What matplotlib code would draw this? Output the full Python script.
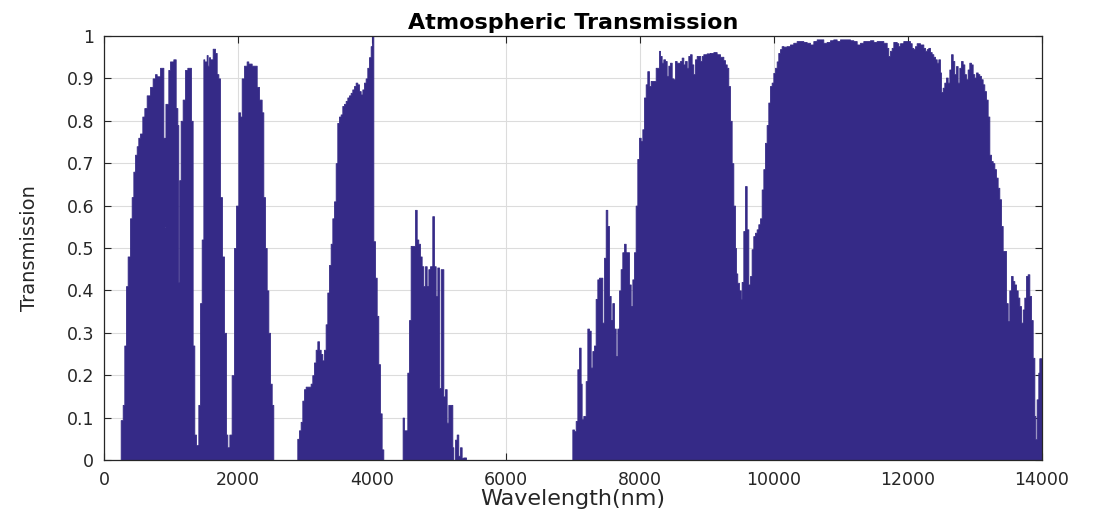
import matplotlib
matplotlib.use("Agg")
import matplotlib.pyplot as plt
import numpy as np

# ---- data (wavelength in nm = left edge of each step, transmission value) ----
band1_wl = [249, 279, 303, 328, 353, 388, 413, 438, 463, 488, 512, 537, 572, 602, 637, 687, 726, 761, 786, 836,
            886, 905, 917, 960, 985, 1035, 1070, 1095, 1109, 1124, 1144, 1174, 1209, 1244, 1298, 1323, 1348, 1373,
            1408, 1433, 1458, 1483, 1497, 1532, 1547, 1567, 1582, 1622, 1657, 1682, 1707, 1731, 1761, 1791, 1821,
            1841, 1871, 1905, 1940, 1970, 2005, 2030, 2055, 2090, 2129, 2154, 2204, 2279, 2314, 2353, 2378, 2403,
            2428, 2453, 2478, 2503, 2527]
band1_T = [0.094, 0.13, 0.27, 0.41, 0.48, 0.57, 0.62, 0.68, 0.72, 0.74, 0.76, 0.77, 0.81, 0.83, 0.86, 0.88, 0.90,
           0.91, 0.905, 0.925, 0.76, 0.55, 0.84, 0.92, 0.94, 0.945, 0.83, 0.79, 0.42, 0.66, 0.80, 0.85, 0.92, 0.925,
           0.80, 0.27, 0.06, 0.035, 0.13, 0.37, 0.52, 0.945, 0.94, 0.955, 0.93, 0.95, 0.945, 0.97, 0.96, 0.91, 0.90,
           0.62, 0.48, 0.30, 0.06, 0.03, 0.06, 0.20, 0.50, 0.60, 0.82, 0.81, 0.90, 0.93, 0.94, 0.935, 0.93, 0.88,
           0.85, 0.82, 0.62, 0.50, 0.40, 0.30, 0.18, 0.13, 0.0]

band2_wl = [2885, 2910, 2935, 2960, 2985, 3010, 3084, 3109, 3134, 3159, 3184, 3209, 3234, 3259, 3283, 3308, 3333,
            3358, 3383, 3408, 3433, 3458, 3482, 3507, 3532, 3557, 3582, 3607, 3632, 3657, 3681, 3706, 3731, 3756,
            3781, 3806, 3831, 3856, 3880, 3905, 3930, 3955, 3980, 4000, 4020, 4045, 4070, 4094, 4119, 4144, 4169]
band2_T = [0.05, 0.07, 0.09, 0.14, 0.167, 0.173, 0.18, 0.20, 0.23, 0.26, 0.28, 0.26, 0.25, 0.235, 0.26, 0.32, 0.395,
           0.46, 0.51, 0.57, 0.61, 0.70, 0.795, 0.81, 0.815, 0.835, 0.84, 0.847, 0.855, 0.86, 0.866, 0.874, 0.882,
           0.89, 0.886, 0.87, 0.862, 0.874, 0.89, 0.90, 0.925, 0.95, 0.976, 1.0, 0.516, 0.43, 0.34, 0.226, 0.11,
           0.025, 0.0]

band3_wl = [4457, 4477, 4527, 4552, 4577, 4642, 4667, 4691, 4716, 4741, 4766, 4791, 4816, 4841, 4866, 4900, 4925,
            4950, 4975, 5000, 5025, 5065, 5089, 5114, 5139, 5199, 5214, 5239, 5264, 5288, 5313, 5338, 5363, 5403]
band3_T = [0.10, 0.07, 0.206, 0.33, 0.505, 0.59, 0.52, 0.51, 0.48, 0.457, 0.41, 0.457, 0.41, 0.45, 0.457, 0.575,
           0.457, 0.387, 0.454, 0.17, 0.45, 0.15, 0.167, 0.088, 0.13, 0.03, 0.0, 0.048, 0.06, 0.01, 0.03, 0.005,
           0.006, 0.0]

band4_wl = [6990, 7015, 7040, 7065, 7090, 7114, 7129, 7154, 7189, 7214, 7239, 7264, 7289, 7313, 7338, 7363, 7388,
            7438, 7463, 7488, 7512, 7537, 7562, 7587, 7612, 7637, 7662, 7687, 7711, 7736, 7761, 7786, 7811, 7836,
            7861, 7886, 7910, 7935, 7960, 7985, 8010, 8035, 8060, 8085, 8109, 8134, 8159, 8234, 8284, 8299, 8323,
            8348, 8373, 8398, 8423, 8448, 8473, 8498, 8522, 8547, 8597, 8622, 8647, 8672, 8697, 8721, 8746, 8771,
            8796, 8821, 8846, 8896, 8920, 8945, 8995, 9045, 9095, 9144, 9194, 9244, 9269, 9294, 9318, 9343, 9368,
            9393, 9418, 9433, 9452, 9477, 9502, 9517, 9542, 9567, 9592, 9617, 9642, 9666, 9691, 9716, 9741, 9766,
            9791, 9816, 9841, 9865, 9890, 9915, 9940, 9965, 9990, 10015, 10040, 10064, 10089, 10114, 10139, 10189,
            10238, 10288, 10338, 10438, 10487, 10537, 10587, 10637, 10736, 10786, 10836, 10885, 10935, 10985,
            11134, 11184, 11234, 11284, 11333, 11433, 11483, 11532, 11582, 11632, 11682, 11706, 11731, 11756,
            11781, 11831, 11856, 11881, 11930, 12030, 12055, 12080, 12104, 12129, 12179, 12229, 12254, 12279,
            12303, 12328, 12353, 12378, 12403, 12428, 12453, 12477, 12492, 12517, 12542, 12567, 12592, 12617,
            12642, 12667, 12691, 12716, 12741, 12766, 12791, 12816, 12841, 12865, 12890, 12915, 12940, 12965,
            12990, 13015, 13040, 13065, 13089, 13114, 13139, 13164, 13189, 13214, 13239, 13264, 13289, 13313,
            13338, 13363, 13388, 13413, 13463, 13488, 13512, 13537, 13562, 13587, 13612, 13637, 13662, 13687,
            13712, 13736, 13761, 13786, 13811, 13836, 13861, 13886, 13900, 13920, 13945, 13960]
band4_T = [0.072, 0.068, 0.092, 0.214, 0.265, 0.18, 0.096, 0.104, 0.186, 0.31, 0.305, 0.218, 0.257, 0.27, 0.38,
           0.426, 0.43, 0.324, 0.477, 0.59, 0.552, 0.387, 0.33, 0.37, 0.31, 0.245, 0.31, 0.40, 0.45, 0.49, 0.51,
           0.49, 0.49, 0.414, 0.363, 0.426, 0.49, 0.60, 0.71, 0.76, 0.752, 0.78, 0.855, 0.886, 0.917, 0.882, 0.894,
           0.925, 0.965, 0.953, 0.937, 0.945, 0.941, 0.906, 0.93, 0.937, 0.90, 0.898, 0.941, 0.937, 0.941, 0.949,
           0.933, 0.941, 0.925, 0.953, 0.957, 0.933, 0.91, 0.945, 0.953, 0.941, 0.953, 0.957, 0.959, 0.96, 0.962,
           0.957, 0.951, 0.943, 0.933, 0.925, 0.882, 0.80, 0.70, 0.60, 0.50, 0.44, 0.418, 0.40, 0.38, 0.42, 0.54,
           0.646, 0.544, 0.414, 0.434, 0.497, 0.528, 0.536, 0.544, 0.556, 0.57, 0.638, 0.686, 0.748, 0.79, 0.843,
           0.882, 0.89, 0.913, 0.925, 0.94, 0.96, 0.969, 0.976, 0.975, 0.976, 0.98, 0.984, 0.988, 0.986, 0.984,
           0.98, 0.988, 0.992, 0.984, 0.986, 0.99, 0.992, 0.988, 0.992, 0.99, 0.988, 0.98, 0.984, 0.988, 0.99,
           0.986, 0.988, 0.988, 0.984, 0.972, 0.953, 0.965, 0.972, 0.986, 0.983, 0.976, 0.983, 0.988, 0.983,
           0.972, 0.969, 0.976, 0.983, 0.98, 0.972, 0.965, 0.969, 0.972, 0.962, 0.957, 0.951, 0.945, 0.937, 0.945,
           0.914, 0.868, 0.878, 0.89, 0.902, 0.89, 0.921, 0.957, 0.941, 0.91, 0.929, 0.89, 0.925, 0.941, 0.933,
           0.91, 0.898, 0.921, 0.937, 0.933, 0.91, 0.902, 0.914, 0.91, 0.906, 0.898, 0.886, 0.87, 0.85, 0.81, 0.72,
           0.705, 0.70, 0.686, 0.666, 0.642, 0.615, 0.552, 0.493, 0.37, 0.328, 0.40, 0.434, 0.422, 0.414, 0.40,
           0.383, 0.363, 0.324, 0.355, 0.383, 0.434, 0.438, 0.387, 0.33, 0.241, 0.104, 0.049, 0.143, 0.206, 0.24]

x_ticks = [0, 2000, 4000, 6000, 8000, 10000, 12000, 14000]
y_ticks = [0, 0.1, 0.2, 0.3, 0.4, 0.5, 0.6, 0.7, 0.8, 0.9, 1]
y_ticklabels = ["0", "0.1", "0.2", "0.3", "0.4", "0.5", "0.6", "0.7", "0.8", "0.9", "1"]

# ---- assemble ----
wl = np.array([0] + band1_wl + band2_wl + band3_wl + band4_wl + [14000], dtype=float)
T = np.array([0.0] + band1_T + band2_T + band3_T + band4_T + [band4_T[-1]], dtype=float)

plt.rcParams['font.family'] = ['DejaVu Sans']
text_col = '#262626'
fill_col = '#352A87'

fig = plt.figure(figsize=(10.93, 5.14), dpi=100)
ax = fig.add_axes([104 / 1093, 54 / 514, 938 / 1093, 424 / 514])

ax.fill_between(wl, T, 0, step='post', facecolor=fill_col, edgecolor=fill_col, linewidth=0.6, zorder=2)

ax.set_xlim(0, 14000)
ax.set_ylim(0, 1)
ax.set_xticks(x_ticks)
ax.set_xticklabels([str(v) for v in x_ticks])
ax.set_yticks(y_ticks)
ax.set_yticklabels(y_ticklabels)

ax.grid(True, color='#DCDCDC', linewidth=0.8, zorder=0)
ax.set_axisbelow(True)

ax.tick_params(direction='in', top=True, right=True, length=5, width=0.8,
               colors=text_col, labelsize=12.5)
ax.tick_params(axis='x', pad=8)
ax.tick_params(axis='y', pad=7)
for s in ax.spines.values():
    s.set_color(text_col)
    s.set_linewidth(0.9)

ax.set_title('Atmospheric Transmission', fontsize=16, fontweight='bold', color='black', pad=5)
ax.set_xlabel('Wavelength(nm)', fontsize=16, color=text_col, labelpad=0)
ax.set_ylabel('Transmission', fontsize=14, color=text_col, labelpad=20)

fig.savefig('out.png', dpi=100)
